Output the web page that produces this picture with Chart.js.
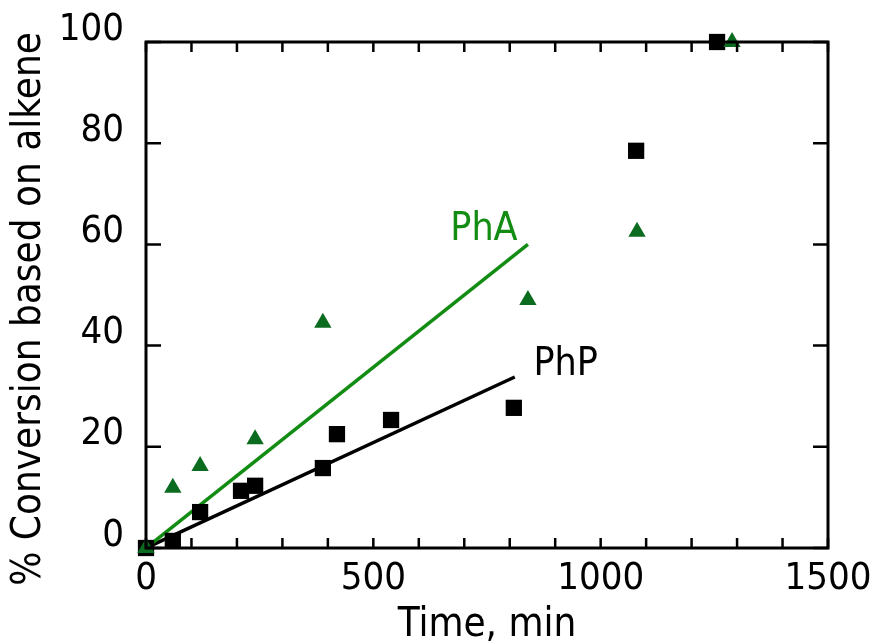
<!doctype html>
<html lang="en">
  <head>
    <meta charset="utf-8">
    <title>Conversion vs time</title>
    <style>
      * { margin: 0; padding: 0; }
      body { background: white; }
      .chartBox { width: 872px; height: 642px; }
    </style>
  </head>
  <body>
    <div class="chartBox">
      <canvas id="myChart"></canvas>
    </div>
    <script src="https://cdn.jsdelivr.net/npm/chart.js/dist/chart.umd.min.js"></script>
    <script>
// data
const timePhP = [0, 59, 119, 209, 240, 389, 420, 539, 809, 1078, 1256];
const convPhP = [0, 1.4, 7.1, 11.3, 12.3, 15.8, 22.5, 25.3, 27.7, 78.5, 100];
const timePhA = [0, 59, 119, 240, 389, 840, 1080, 1289];
const convPhA = [0, 11.9, 16.2, 21.5, 44.5, 49, 62.5, 100];

// linear fits (start, end)
const fitTimePhA = [0, 840];
const fitConvPhA = [0, 60];
const fitTimePhP = [0, 811];
const fitConvPhP = [0, 33.8];

const xTicks = [0, 500, 1000, 1500];
const yTicks = [0, 20, 40, 60, 80, 100];
const yTitle = '% Conversion based on alkene';

const FONT = "'DejaVu Sans Condensed', 'DejaVu Sans', sans-serif";
const GREEN_LINE = '#128c12';
const GREEN_MARK = '#0b6b1f';

const pts = (xs, ys) => xs.map((x, i) => ({ x: x, y: ys[i] }));

// inward tick marks on all four sides + frame
const frame = {
  id: 'frame',
  afterDatasetsDraw(chart) {
    const { ctx, chartArea: a, scales } = chart;
    ctx.save();
    ctx.strokeStyle = '#000';
    ctx.lineWidth = 2.5;
    ctx.beginPath();
    scales.x.ticks.forEach(t => {
      const px = scales.x.getPixelForValue(t.value);
      ctx.moveTo(px, a.bottom); ctx.lineTo(px, a.bottom - 10);
      ctx.moveTo(px, a.top); ctx.lineTo(px, a.top + 10);
    });
    scales.y.ticks.forEach(t => {
      const py = scales.y.getPixelForValue(t.value);
      ctx.moveTo(a.left, py); ctx.lineTo(a.left + 15, py);
      ctx.moveTo(a.right, py); ctx.lineTo(a.right - 15, py);
    });
    ctx.stroke();
    ctx.lineWidth = 3;
    ctx.strokeRect(a.left, a.top, a.right - a.left, a.bottom - a.top);
    ctx.restore();
  }
};

// fit labels next to the fit line ends, and the y title
const texts = {
  id: 'texts',
  afterDatasetsDraw(chart) {
    const { ctx, scales, chartArea: a } = chart;
    ctx.save();
    ctx.font = '39px ' + FONT;
    ctx.textBaseline = 'middle';
    ctx.textAlign = 'center';
    ctx.fillStyle = GREEN_LINE;
    ctx.fillText('PhA', scales.x.getPixelForValue(fitTimePhA[1]) - 44,
                        scales.y.getPixelForValue(fitConvPhA[1]) - 15);
    ctx.fillStyle = '#000';
    ctx.fillText('PhP', scales.x.getPixelForValue(fitTimePhP[1]) + 51,
                        scales.y.getPixelForValue(fitConvPhP[1]) - 12);
    // y axis title
    ctx.font = '40px ' + FONT;
    ctx.translate(30, (a.top + a.bottom) / 2 + 14);
    ctx.rotate(-Math.PI / 2);
    ctx.fillText(yTitle, 0, 0);
    ctx.restore();
  }
};

const data = {
  datasets: [{
    type: 'scatter',
    label: 'PhA',
    data: pts(timePhA, convPhA),
    pointStyle: 'triangle',
    pointRadius: 10,
    pointHoverRadius: 10,
    backgroundColor: GREEN_MARK,
    borderColor: GREEN_MARK,
    borderWidth: 0,
    clip: false,
    order: 1
  }, {
    type: 'scatter',
    label: 'PhP',
    data: pts(timePhP, convPhP),
    pointStyle: 'rect',
    pointRadius: 11.5,
    pointHoverRadius: 11.5,
    backgroundColor: '#000',
    borderColor: '#000',
    borderWidth: 0,
    clip: false,
    order: 2
  }, {
    type: 'line',
    label: 'PhA fit',
    data: pts(fitTimePhA, fitConvPhA),
    borderColor: GREEN_LINE,
    borderWidth: 3.5,
    pointRadius: 0,
    order: 3
  }, {
    type: 'line',
    label: 'PhP fit',
    data: pts(fitTimePhP, fitConvPhP),
    borderColor: '#000',
    borderWidth: 3.5,
    pointRadius: 0,
    order: 4
  }]
};

const config = {
  type: 'scatter',
  data,
  options: {
    responsive: true,
    maintainAspectRatio: false,
    animation: false,
    layout: { padding: { top: 42, right: 44, left: 0, bottom: 0 } },
    plugins: { legend: { display: false }, tooltip: { enabled: false } },
    scales: {
      x: {
        type: 'linear',
        min: 0, max: 1500,
        grid: { display: false, drawTicks: false },
        border: { display: false },
        afterFit: s => { s.height = 94; s.paddingRight = 0; s.paddingLeft = 0; },
        ticks: {
          stepSize: 100,
          autoSkip: false,
          maxRotation: 0,
          padding: 8,
          color: '#000',
          font: { family: FONT, size: 38 },
          callback: v => xTicks.includes(v) ? String(v) : ''
        },
        title: {
          display: true,
          text: 'Time, min',
          color: '#000',
          font: { family: FONT, size: 40 },
          padding: { top: 0, bottom: -8 }
        }
      },
      y: {
        type: 'linear',
        min: 0, max: 100,
        grid: { display: false, drawTicks: false },
        border: { display: false },
        afterFit: s => { s.width = 146; s.paddingTop = 0; s.paddingBottom = 0; },
        ticks: {
          stepSize: 20,
          padding: 22,
          color: '#000',
          font: { family: FONT, size: 38, lineHeight: 0.65 },
          // second empty line lifts the label above its tick, as in the figure
          callback: v => yTicks.includes(v) ? [String(v), ''] : ''
        }
      }
    }
  },
  plugins: [frame, texts]
};

const myChart = new Chart(document.getElementById('myChart'), config);
    </script>
  </body>
</html>
